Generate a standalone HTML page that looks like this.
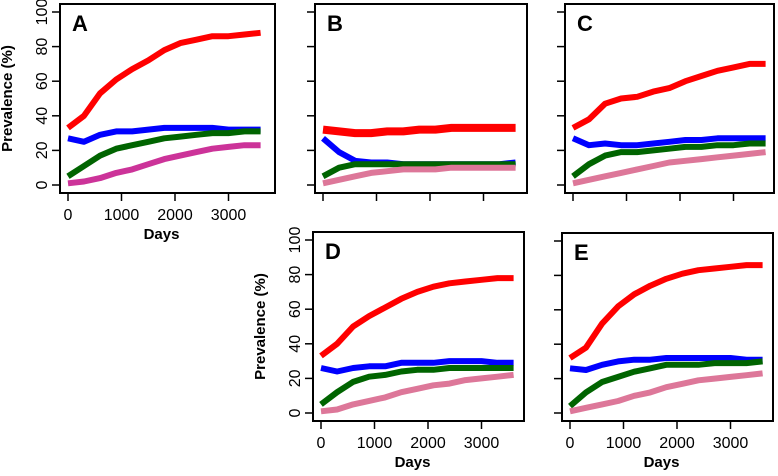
<!DOCTYPE html>
<html><head><meta charset="utf-8"><style>
body{margin:0;background:#fff;}
svg{display:block;font-family:"Liberation Sans",sans-serif;}
</style></head><body>
<svg id="c" width="778" height="476" viewBox="0 0 778 476"></svg>
<script>
const days=[0,300,600,900,1200,1500,1800,2100,2400,2700,3000,3300,3600];
const xTicks=[0,1000,2000,3000];
const yTicks=[0,20,40,60,80,100];
const panelLabels=["A","B","C","D","E"];
const redA=[33,40,53,61,67,72,78,82,84,86,86,87,88];
const blueA=[27,25,29,31,31,32,33,33,33,33,32,32,32];
const greenA=[5,11,17,21,23,25,27,28,29,30,30,31,31];
const pinkA=[1,2,4,7,9,12,15,17,19,21,22,23,23];
const redB=[32,31,30,30,31,31,32,32,33,33,33,33,33];
const blueB=[27,19,14,13,13,12,12,12,12,12,12,12,13];
const greenB=[5,10,12,12,12,12,12,12,12,12,12,12,12];
const pinkB=[1,3,5,7,8,9,9,9,10,10,10,10,10];
const redC=[33,38,47,50,51,54,56,60,63,66,68,70,70];
const blueC=[27,23,24,23,23,24,25,26,26,27,27,27,27];
const greenC=[5,12,17,19,19,20,21,22,22,23,23,24,24];
const pinkC=[1,3,5,7,9,11,13,14,15,16,17,18,19];
const redD=[33,40,50,56,61,66,70,73,75,76,77,78,78];
const blueD=[26,24,26,27,27,29,29,29,30,30,30,29,29];
const greenD=[5,12,18,21,22,24,25,25,26,26,26,26,26];
const pinkD=[1,2,5,7,9,12,14,16,17,19,20,21,22];
const redE=[32,38,52,62,69,74,78,81,83,84,85,86,86];
const blueE=[26,25,28,30,31,31,32,32,32,32,32,31,31];
const greenE=[4,12,18,21,24,26,28,28,28,29,29,29,30];
const pinkE=[1,3,5,7,10,12,15,17,19,20,21,22,23];

const NS="http://www.w3.org/2000/svg";
const svg=document.getElementById('c');
function mk(tag,attrs,parent){const e=document.createElementNS(NS,tag);for(const k in attrs)e.setAttribute(k,attrs[k]);(parent||svg).appendChild(e);return e;}
const panels=[
 {box:[60,4,215,189],s:[redA,blueA,greenA,pinkA],pink:"#cc3399",ylab:true,xlab:true,title:true},
 {box:[315,4,212,189],s:[redB,blueB,greenB,pinkB],pink:"#dd7799",ylab:false,xlab:false,title:false},
 {box:[565,4,209,189],s:[redC,blueC,greenC,pinkC],pink:"#dd7799",ylab:false,xlab:false,title:false},
 {box:[313,232,211,189],s:[redD,blueD,greenD,pinkD],pink:"#dd7799",ylab:true,xlab:true,title:true},
 {box:[562,233,211,188],s:[redE,blueE,greenE,pinkE],pink:"#dd7799",ylab:false,xlab:true,title:false}
];
const names=["red","blue","green","pink"];
panels.forEach((p,i)=>{
 const [bx,by,bw,bh]=p.box;
 const g=mk('g',{});
 
 
 const xs=d=>bx+8+d*0.0535;
 const yv=v=>by+bh-8-v*(bh-16)/100;
 const cols=["#ff0000","#0000ff","#006400",p.pink];
 p.s.forEach((arr,k)=>{
  const pts=days.map((d,j)=>xs(d).toFixed(1)+','+yv(arr[j]).toFixed(1)).join(' ');
  const pl=mk('polyline',{points:pts,fill:'none',stroke:cols[k],'stroke-width':(i===1&&k===0)?8:6,'stroke-linejoin':'round'},g);
  
  
 });
 const r=mk('rect',{x:bx,y:by,width:bw,height:bh,fill:'none',stroke:'#000','stroke-width':2},g);
 
 
 const t=mk('text',{x:bx+12,y:by+27,'font-size':22,'font-weight':'bold'},g);
 t.textContent=panelLabels[i];
 
 
 xTicks.forEach(d=>{
  const x=xs(d);
  mk('line',{x1:x,x2:x,y1:by+bh,y2:by+bh+8,stroke:'#000','stroke-width':1.5},g);
  if(p.xlab){const tt=mk('text',{x:x,y:by+bh+27,'font-size':16,'text-anchor':'middle'},g);tt.textContent=d;
   
   }
 });
 yTicks.forEach(v=>{
  const y=yv(v);
  mk('line',{x1:bx-8,x2:bx,y1:y,y2:y,stroke:'#000','stroke-width':1.5},g);
  if(p.ylab){const tt=mk('text',{x:0,y:0,'font-size':16,'text-anchor':'middle',transform:`translate(${bx-13},${y}) rotate(-90)`},g);tt.textContent=v;
   
   }
 });
 if(p.xlab){const tt=mk('text',{x:bx+bw/2-6,y:by+bh+46,'font-size':15,'font-weight':'bold','text-anchor':'middle'},g);tt.textContent='Days';
  
  }
 if(p.title){const tt=mk('text',{x:0,y:0,'font-size':15,'font-weight':'bold','text-anchor':'middle',transform:`translate(${bx-48},${by+bh/2}) rotate(-90)`},g);tt.textContent='Prevalence (%)';
  
  }
});
</script>
</body></html>
